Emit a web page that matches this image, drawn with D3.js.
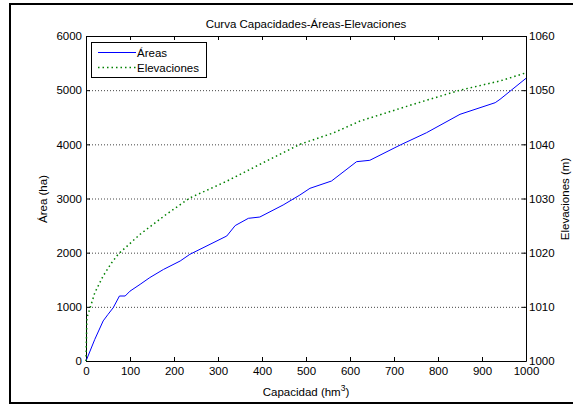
<!DOCTYPE html>
<html>
<head>
<meta charset="utf-8">
<script src="https://cdn.jsdelivr.net/npm/d3@7"></script>
<style>
  body { margin: 0; background: #fff; }
  svg text { font-family: "Liberation Sans", Arial, sans-serif; font-size: 11.5px; fill: #000; }
</style>
</head>
<body>
<svg id="chart" width="573" height="405"></svg>
<script>
// curve data
const capArea = [0, 20, 39, 50, 62, 76, 89, 100, 123, 145, 176, 214, 236, 320, 339, 369, 395, 448, 486, 509, 558, 615, 645, 714, 774, 850, 930, 941, 1000]
const areas   = [0, 400, 740, 860, 985, 1200, 1200, 1290, 1415, 1540, 1690, 1846, 1969, 2308, 2500, 2634, 2658, 2880, 3064, 3188, 3323, 3680, 3705, 3987, 4215, 4554, 4769, 4831, 5219]

const capElev = [0, 2, 9, 20, 39, 58, 73, 123, 183, 236, 320, 395, 486, 562, 623, 744, 850, 941, 1000]
const elevs   = [1000, 1008, 1009.7, 1012.6, 1015.7, 1018.1, 1019.7, 1023.4, 1027.1, 1030.1, 1033.2, 1036.3, 1040, 1042.1, 1044.3, 1047.4, 1050, 1051.7, 1053.2]

const xTicks = d3.range(0, 1001, 100)
const yTicks = d3.range(0, 6001, 1000)
const y2Ticks = d3.range(1000, 1061, 10)

const svg = d3.select('#chart')
const m = {left: 86, right: 526, top: 36, bottom: 361}
const fmt = d3.format('d')

// figure frame
svg.append('rect')
    .attr('x', 10).attr('y', 4).attr('width', 570).attr('height', 399)
    .attr('fill', 'none').attr('stroke', '#000').attr('stroke-width', 2)

const x = d3.scaleLinear().domain([0, 1000]).range([m.left, m.right])
const y = d3.scaleLinear().domain([0, 6000]).range([m.bottom, m.top])
const y2 = d3.scaleLinear().domain([1000, 1060]).range([m.bottom, m.top])

// dotted grid
svg.append('g').selectAll('line')
    .data(yTicks.slice(1, -1))
    .join('line')
    .attr('x1', m.left).attr('x2', m.right)
    .attr('y1', d => y(d) + 0.5).attr('y2', d => y(d) + 0.5)
    .attr('stroke', '#444').attr('stroke-width', 1).attr('stroke-dasharray', '1,2')

// axes
const axB = svg.append('g').attr('transform', `translate(0,${m.bottom})`)
    .call(d3.axisBottom(x).tickValues(xTicks).tickFormat(fmt).tickSizeInner(-4).tickSizeOuter(0).tickPadding(6))
const axT = svg.append('g').attr('transform', `translate(0,${m.top})`)
    .call(d3.axisTop(x).tickValues(xTicks).tickSizeInner(-4).tickSizeOuter(0).tickFormat(''))
const axL = svg.append('g').attr('transform', `translate(${m.left},0)`)
    .call(d3.axisLeft(y).tickValues(yTicks).tickFormat(fmt).tickSizeInner(-4).tickSizeOuter(0).tickPadding(4))
const axR = svg.append('g').attr('transform', `translate(${m.right},0)`)
    .call(d3.axisRight(y2).tickValues(y2Ticks).tickFormat(fmt).tickSizeInner(-4).tickSizeOuter(0).tickPadding(4))

for (const a of [axB, axT, axL, axR]) {
    a.select('.domain').attr('stroke', '#000')
    a.selectAll('.tick line').attr('stroke', '#000')
    a.selectAll('text').attr('font-size', null).attr('font-family', null)
}
axR.selectAll('.tick text').attr('x', 3)

// series
const areaLine = d3.line().x((d, i) => x(capArea[i])).y(d => y(d))
svg.append('path')
    .attr('d', areaLine(areas))
    .attr('fill', 'none').attr('stroke', '#0000ff').attr('stroke-width', 1)

const elevLine = d3.line().x((d, i) => x(capElev[i])).y(d => y2(d))
svg.append('path')
    .attr('d', elevLine(elevs))
    .attr('fill', 'none').attr('stroke', '#008000').attr('stroke-width', 1.5)
    .attr('stroke-dasharray', '1.5,3')

// titles
svg.append('text').attr('x', 306).attr('y', 28).attr('text-anchor', 'middle')
    .text('Curva Capacidades-Áreas-Elevaciones')

const xl = svg.append('text').attr('x', 306).attr('y', 396).attr('text-anchor', 'middle')
xl.append('tspan').text('Capacidad (hm')
xl.append('tspan').attr('dy', -5).attr('font-size', '8.5px').text('3')
xl.append('tspan').attr('dy', 5).text(')')

svg.append('text').attr('transform', 'translate(47,199) rotate(-90)').attr('text-anchor', 'middle')
    .text('Área (ha)')
svg.append('text').attr('transform', 'translate(569,199) rotate(-90)').attr('text-anchor', 'middle')
    .text('Elevaciones (m)')

// legend
const lg = svg.append('g')
lg.append('rect').attr('x', 91.5).attr('y', 42.5).attr('width', 115).attr('height', 35)
    .attr('fill', '#fff').attr('stroke', '#000').attr('stroke-width', 1)
lg.append('line').attr('x1', 98).attr('x2', 136).attr('y1', 52.5).attr('y2', 52.5)
    .attr('stroke', '#0000ff')
lg.append('line').attr('x1', 98).attr('x2', 136).attr('y1', 67.5).attr('y2', 67.5)
    .attr('stroke', '#008000').attr('stroke-width', 1.5).attr('stroke-dasharray', '1.5,3')
lg.append('text').attr('x', 137).attr('y', 56.5).text('Áreas')
lg.append('text').attr('x', 137).attr('y', 71.5).text('Elevaciones')
</script>
</body>
</html>
